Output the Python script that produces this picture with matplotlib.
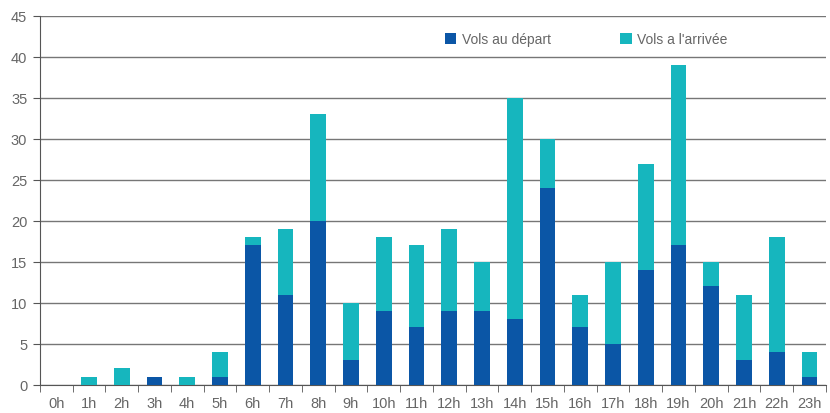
import matplotlib

matplotlib.use("Agg")
import matplotlib.pyplot as plt
import numpy as np

plt.rcParams["font.family"] = ["Liberation Sans", "DejaVu Sans"]

heures = [f"{h}h" for h in range(24)]
total = [0, 1, 2, 1, 1, 4, 18, 19, 33, 10, 18, 17, 19, 15, 35, 30, 11, 15, 27, 39, 15, 11, 18, 4]
depart = [0, 0, 0, 1, 0, 1, 17, 11, 20, 3, 9, 7, 9, 9, 8, 24, 7, 5, 14, 17, 12, 3, 4, 1]
arrivee = [t - d for t, d in zip(total, depart)]

c_dep = "#0b56a6"
c_arr = "#16b6be"
grey = "#666666"

fig = plt.figure(figsize=(8.3, 4.14), dpi=100)
ax = fig.add_axes([0.048, 0.068, 0.947, 0.891])

x = np.arange(len(heures))
ax.bar(x, depart, width=0.48, color=c_dep, label="Vols au départ", zorder=3)
ax.bar(x, arrivee, width=0.48, bottom=depart, color=c_arr, label="Vols a l'arrivée", zorder=3)

ax.set_xlim(-0.5, len(heures) - 0.5)
ax.set_ylim(0, 45)
ax.set_yticks(range(0, 46, 5))
ax.yaxis.grid(True, color="#767676", linewidth=1.0, zorder=0)

ax.set_xticks(x)
ax.set_xticklabels(heures)
ax.set_xticks(np.arange(-0.5, len(heures), 1), minor=True)
ax.tick_params(axis="x", which="major", length=0, pad=8, labelsize=10.5, labelcolor=grey)
ax.tick_params(axis="x", which="minor", length=5, color="#555555", direction="out")
ax.tick_params(axis="y", length=5, color="#555555", labelsize=10.5, labelcolor=grey, pad=4)

for s in ("top", "right"):
    ax.spines[s].set_visible(False)
ax.spines["left"].set_color("#555555")
ax.spines["bottom"].set_color("#555555")

leg = ax.legend(loc="upper left", bbox_to_anchor=(0.5, 0.99), ncol=2, frameon=False,
                handlelength=0.8, handleheight=0.8, handletextpad=0.4, columnspacing=5.0,
                fontsize=10)
for t in leg.get_texts():
    t.set_color(grey)

fig.savefig("out.png", dpi=100)
